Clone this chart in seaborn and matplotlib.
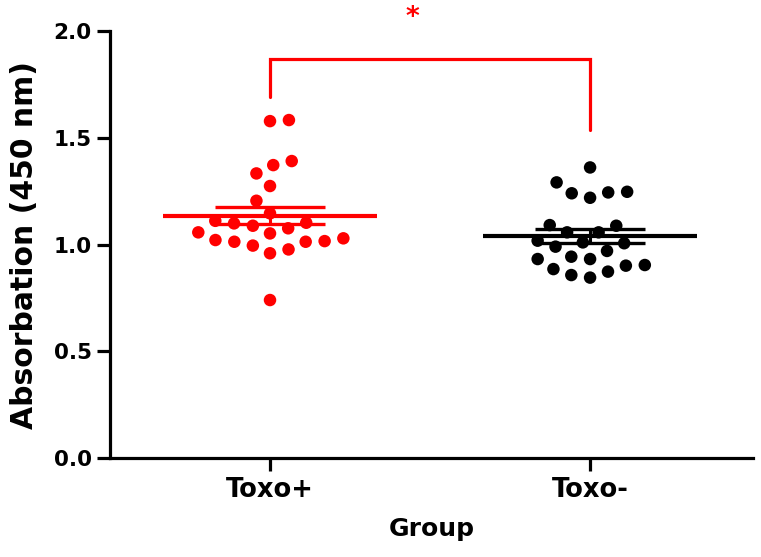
import numpy as np
import pandas as pd
import matplotlib
matplotlib.use("Agg")
import matplotlib.pyplot as plt
import seaborn as sns

# ---- data ----
groups = ["Toxo+", "Toxo-"]
toxo_pos = [1.583, 1.578, 1.391, 1.372, 1.333, 1.274, 1.205, 1.146, 1.111, 1.099,
            1.076, 1.052, 1.057, 1.088, 1.102, 1.029, 1.016, 1.013, 0.977, 0.959,
            0.995, 1.013, 1.021, 0.740]
toxo_neg = [1.361, 1.291, 1.247, 1.240, 1.219, 1.244, 1.088, 1.091, 1.057, 1.057,
            1.018, 1.006, 0.990, 1.010, 0.970, 0.943, 0.932, 0.932, 0.901, 0.904,
            0.873, 0.885, 0.845, 0.857]
group_colors = ["#ff0000", "#000000"]
y_ticks = [0.0, 0.5, 1.0, 1.5, 2.0]
bracket_y = [1.691, 1.869, 1.869, 1.536]
star_label = "*"

sns.set_style("ticks")
plt.rcParams["font.family"] = ["DejaVu Sans"]
plt.rcParams["font.weight"] = "bold"
for key in ["text.color", "axes.labelcolor", "xtick.color", "ytick.color",
            "axes.edgecolor"]:
    plt.rcParams[key] = "black"

df = pd.DataFrame({
    "Group": [groups[0]] * len(toxo_pos) + [groups[1]] * len(toxo_neg),
    "Value": toxo_pos + toxo_neg,
})
palette = dict(zip(groups, group_colors))

fig = plt.figure(figsize=(7.61, 5.57), dpi=100)
ax = fig.add_axes([0.1445, 0.1777, 0.845, 0.7666])

sns.swarmplot(data=df, x="Group", y="Value", hue="Group", palette=palette,
              order=groups, size=9, linewidth=4, edgecolor="none",
              legend=False, ax=ax, zorder=3)
for coll in ax.collections:
    coll.set_edgecolor("none")

# mean and SEM
for i, (vals, col) in enumerate(zip([toxo_pos, toxo_neg], group_colors)):
    v = np.asarray(vals)
    m = v.mean()
    sem = v.std(ddof=1) / np.sqrt(len(v))
    ax.hlines(m, i - 0.335, i + 0.335, color=col, lw=3.0, zorder=4)
    ax.errorbar(i, m, yerr=sem, color=col, lw=2.2, capsize=39.6,
                capthick=2.4, zorder=4)

# significance bracket
ax.plot([0, 0, 1, 1], bracket_y, color=group_colors[0], lw=2.3,
        clip_on=False, solid_joinstyle="miter", zorder=5)
ax.text(0.444, 2.06, star_label, color=group_colors[0], fontsize=19,
        fontweight="bold", ha="center", va="center", clip_on=False)

ax.set_xlim(-0.5, 1.509)
ax.set_ylim(0, 2.0)
ax.set_yticks(y_ticks)
ax.set_yticklabels([f"{t:.1f}" for t in y_ticks])
sns.despine(ax=ax)
for s in ["left", "bottom"]:
    ax.spines[s].set_linewidth(2.3)
    ax.spines[s].set_color("black")
ax.tick_params(axis="both", length=9.5, width=2.3, color="black",
               labelcolor="black")
ax.tick_params(axis="y", labelsize=15.5, pad=3.6)
ax.tick_params(axis="x", labelsize=18.5, pad=4)
for lab in ax.get_xticklabels() + ax.get_yticklabels():
    lab.set_fontweight("bold")

ax.set_xlabel("Group", fontsize=18, fontweight="bold", labelpad=10,
              color="black")
ax.set_ylabel("Absorbation (450 nm)", fontsize=21.5, fontweight="bold",
              labelpad=10.8, color="black")

fig.savefig("out.png", dpi=100)
